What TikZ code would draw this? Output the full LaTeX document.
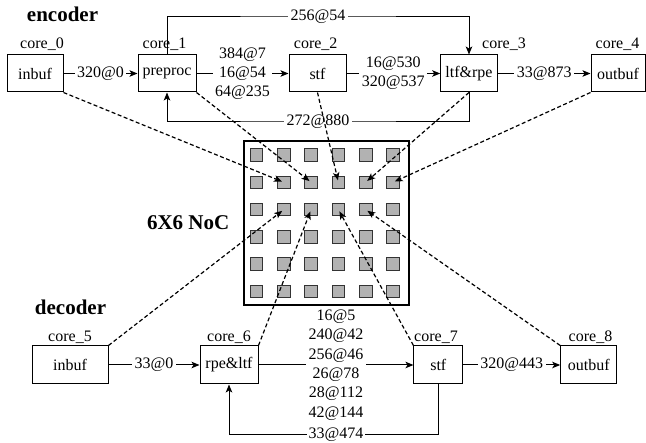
\documentclass[tikz,border=0pt]{standalone}
\usepackage{fontspec}
\setmainfont{Liberation Serif}
\usetikzlibrary{arrows.meta,calc}
\begin{document}
\begin{tikzpicture}[x=1pt,y=-1pt,
  every node/.style={font=\fontsize{16}{19.3}\selectfont},
  box/.style={draw, line width=1pt, inner sep=0pt},
  ebox/.style={box, minimum height=37pt},
  dbox/.style={box, minimum height=38pt},
  corelbl/.style={anchor=base, inner sep=0pt},
  lbl/.style={fill=white, inner sep=2.5pt, align=center},
  arr/.style={line width=1pt, -{Stealth[length=8pt,width=6.5pt,inset=2pt]}},
  noclink/.style={line width=1.2pt, dash pattern=on 4pt off 2.5pt, -{Stealth[length=8pt,width=6.5pt,inset=2pt]}, shorten >=2pt},
  title/.style={font=\fontsize{21}{25}\selectfont\bfseries, inner sep=0pt},
  sq/.style={draw=black!80, fill=black!30, line width=0.9pt, minimum size=12.5pt, inner sep=0pt}
]
\useasboundingbox (0,0) rectangle (646,443);

% titles
\node[title, anchor=base] (tenc) at (62.5,22) {encoder};
\node[title, anchor=base] (tdec) at (70.5,315) {decoder};
\node[title, anchor=base east] (tnoc) at (229.5,230) {6X6 NoC};

% NoC
\node[draw, line width=1.1pt, minimum width=165pt, minimum height=164pt, inner sep=0pt] (noc) at (326.5,223) {};
\foreach \r in {1,...,6}
  \foreach \c in {1,...,6}
    \node[sq] (s-\r-\c) at ({256.5+27.3*(\c-1)},{155+27.3*(\r-1)}) {};

% encoder boxes
\node[ebox, minimum width=56pt] (b0) at (35,73.5) {inbuf};
\node[ebox, minimum width=58pt] (b1) at (167,73.5) {preproc};
\node[ebox, minimum width=57pt] (b2) at (317.5,73.5) {stf};
\node[ebox, minimum width=56.6pt] (b3) at (469,73.5) {ltf\&rpe};
\node[ebox, minimum width=54pt] (b4) at (618,73.5) {outbuf};

\node[corelbl] (l0) at (42,48.5) {core\_0};
\node[corelbl] (l1) at (164.5,48.5) {core\_1};
\node[corelbl] (l2) at (315.7,48.5) {core\_2};
\node[corelbl] (l3) at (504,48.5) {core\_3};
\node[corelbl] (l4) at (617.5,48.5) {core\_4};

% decoder boxes
\node[dbox, minimum width=76pt] (b5) at (70,365) {inbuf};
\node[dbox, minimum width=58pt] (b6) at (229,365) {rpe\&ltf};
\node[dbox, minimum width=48.7pt] (b7) at (438.3,365) {stf};
\node[dbox, minimum width=56pt] (b8) at (588.7,365) {outbuf};

\node[corelbl] (l5) at (70,341.7) {core\_5};
\node[corelbl] (l6) at (229,341.7) {core\_6};
\node[corelbl] (l7) at (436,341.7) {core\_7};
\node[corelbl] (l8) at (590.5,341.7) {core\_8};

% encoder connectors
\draw[arr] (b0) -- node[lbl] {320@0} (b1);
\draw[arr] (b1) -- node[lbl] {384@7\\16@54\\64@235} (b2);
\draw[arr] (b2) -- node[lbl] {16@530\\320@537} (b3);
\draw[arr] (b3) -- node[lbl] {33@873} (b4);

\coordinate (t) at (318,17);
\draw[arr] (b1.north) |- (t) -| (b3.north);
\node[lbl] (lt) at (t) {256@54};

\coordinate (u) at (318,122);
\draw[arr] (b3.south) |- (u) -| (b1.south);
\node[lbl] (lu) at (u) {272@880};

% decoder connectors
\draw[arr] (b5) -- node[lbl] {33@0} (b6);
\draw[arr] (b6) -- node[lbl] {16@5\\240@42\\256@46\\26@78\\28@112\\42@144} (b7);
\draw[arr] (b7) -- node[lbl] {320@443} (b8);

\coordinate (v) at (336,434.5);
\draw[arr] (b7.south) |- (v) -| (b6.south);
\node[lbl, inner sep=1.5pt] (lv) at (v) {33@474};

% links to NoC
\draw[noclink] (b0.south east) -- (s-2-2.center);
\draw[noclink] (b1.south east) -- (s-2-3.center);
\draw[noclink] (b2.south) -- (s-2-4.center);
\draw[noclink] (b3.south) -- (s-2-5.center);
\draw[noclink] (b4.south west) -- (s-2-6.center);
\draw[noclink] (b5.north east) -- (s-3-2.center);
\draw[noclink] (b6.north east) -- (s-3-3.center);
\draw[noclink] (b7.north west) -- (s-3-4.center);
\draw[noclink] (b8.north west) -- (s-3-5.center);
\end{tikzpicture}
\end{document}
